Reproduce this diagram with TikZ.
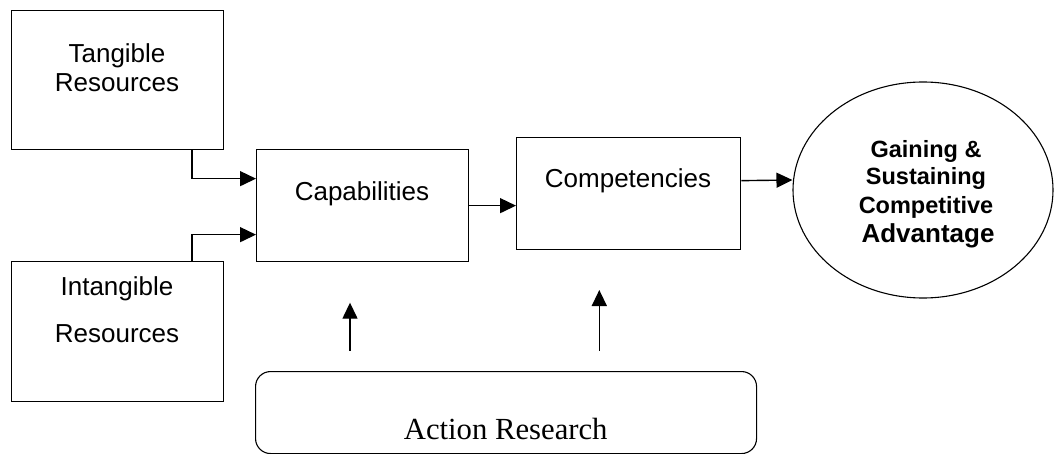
\documentclass[tikz,border=0pt]{standalone}
\usepackage{fontspec}
\setmainfont{Liberation Serif}
\setsansfont{Liberation Sans}
\usetikzlibrary{arrows.meta,shapes.geometric}
\begin{document}
\begin{tikzpicture}[x=1pt,y=-1pt,
  box/.style={draw, line width=1.3pt, inner sep=0pt, anchor=north west},
  lbl/.style={font=\sffamily\fontsize{26}{29}\selectfont, anchor=base, inner sep=0pt},
  glbl/.style={font=\sffamily\bfseries\fontsize{23.5}{28}\selectfont, anchor=base, inner sep=0pt},
  arr/.style={line width=1.4pt, -{Triangle[length=16pt,width=15pt]}},
]
\useasboundingbox (0,0) rectangle (1054,454);
% boxes
\node[box, minimum width=212pt, minimum height=139pt] (tang) at (11,10) {};
\node[box, minimum width=212pt, minimum height=140pt] (intang) at (11,261) {};
\node[box, minimum width=212pt, minimum height=112pt] (cap) at (256,149) {};
\node[box, minimum width=224pt, minimum height=112pt] (comp) at (516,137) {};
\node[draw, line width=1.1pt, ellipse, inner sep=0pt, minimum width=260pt, minimum height=216pt] (goal) at (923,190) {};
\node[draw, line width=1.1pt, rounded corners=15pt, inner sep=0pt, minimum width=501pt, minimum height=82pt, anchor=north west] (ar) at (255,371) {};
% texts
\node[lbl] (tang1) at (117,63) {Tangible};
\node[lbl] (tang2) at (117,92) {Resources};
\node[lbl] (int1) at (117,295) {Intangible};
\node[lbl] (int2) at (117,342) {Resources};
\node[lbl] (capt) at (362,200.7) {Capabilities};
\node[lbl] (compt) at (628,188) {Competencies};
\node[glbl] (g1) at (926,157.3) {Gaining \&};
\node[glbl] (g2) at (926,185) {Sustaining};
\node[glbl] (g3) at (926,213.3) {Competitive};
\node[glbl, font=\sffamily\bfseries\fontsize{26}{28}\selectfont] (g4) at (928,242.7) {Advantage};
\node[font=\fontsize{30.7}{34}\selectfont, anchor=base, inner sep=0pt] (art) at (505.7,439) {Action Research};
% connectors
\draw[arr] ([xshift=-32.3pt]tang.south east) |- ([yshift=27pt]cap.west);
\draw[arr] ([xshift=-32.3pt]intang.north east) |- ([yshift=-29pt]cap.west);
\draw[arr] (cap.east) -- (cap.east -| comp.west);
\draw[arr] ([yshift=13pt]comp.east) -- ([yshift=10pt]goal.west);
\coordinate (u1s) at (350,350.7);
\coordinate (u1e) at (350,302.7);
\coordinate (u2s) at (599.3,350.7);
\coordinate (u2e) at (599.3,290);
\draw[arr] (u1s) -- (u1e);
\draw[arr] (u2s) -- (u2e);
\end{tikzpicture}
\end{document}
